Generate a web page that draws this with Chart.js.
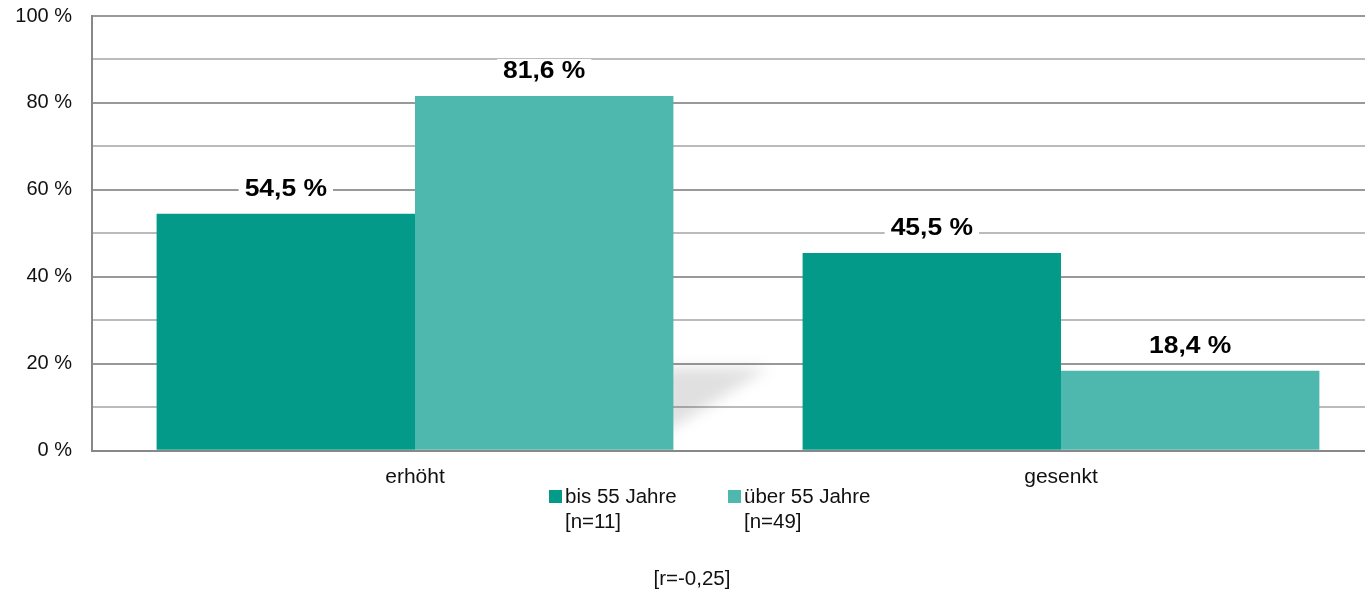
<!DOCTYPE html>
<html>
<head>
<meta charset="utf-8">
<script src="https://cdn.jsdelivr.net/npm/chart.js@4.4.0/dist/chart.umd.min.js"></script>
<style>
  html, body { margin: 0; padding: 0; background: #fff; overflow: hidden; }
  #wrap { width: 1365px; height: 592px; overflow: hidden; }
</style>
</head>
<body>
<div id="wrap"><canvas id="c" width="1400" height="592"></canvas></div>
<script>
// Daten
const categories = ['erhöht', 'gesenkt'];
const seriesNames = [['bis 55 Jahre', '[n=11]'], ['über 55 Jahre', '[n=49]']];
const valuesBis55 = [54.5, 45.5];
const valuesUeber55 = [81.6, 18.4];
const yTickLabels = [0, 20, 40, 60, 80, 100];
const note = '[r=-0,25]';

const colors = ['#039a8a', '#4eb7ae'];
const FONT = '"Liberation Sans", Arial, sans-serif';

const labelPlugin = {
  id: 'labels',
  beforeDatasetsDraw(chart) {
    // weicher Schatten rechts neben dem ersten hellen Balken
    const ctx = chart.ctx;
    const bar = chart.getDatasetMeta(1).data[0];
    const right = bar.x + bar.width / 2;
    const y0 = chart.scales.y.getPixelForValue(20);
    const y1 = chart.scales.y.getPixelForValue(4);
    ctx.save();
    ctx.filter = 'blur(7px)';
    ctx.fillStyle = 'rgba(0,0,0,0.12)';
    ctx.beginPath();
    ctx.moveTo(right - 10, y0 + 4);
    ctx.lineTo(right + 95, y0 + 4);
    ctx.lineTo(right - 10, y1);
    ctx.closePath();
    ctx.fill();
    ctx.restore();
  },
  afterDatasetsDraw(chart) {
    const ctx = chart.ctx;
    ctx.save();
    ctx.font = 'bold 23px ' + FONT;
    ctx.textAlign = 'center';
    ctx.textBaseline = 'middle';
    chart.data.datasets.forEach((ds, i) => {
      chart.getDatasetMeta(i).data.forEach((bar, j) => {
        const txt = ds.data[j].toFixed(1).replace('.', ',') + ' %';
        const w = ctx.measureText(txt).width * 1.15;
        const y = bar.y - 24;
        ctx.fillStyle = '#fff';
        ctx.fillRect(bar.x - w / 2 - 6, y - 13, w + 12, 26);
        ctx.save();
        ctx.translate(bar.x, y);
        ctx.scale(1.15, 1);
        ctx.fillStyle = '#000';
        ctx.fillText(txt, 0, 0);
        ctx.restore();
      });
    });
    ctx.restore();
  },
  afterDraw(chart) {
    const ctx = chart.ctx;
    ctx.save();
    ctx.font = '20.5px ' + FONT;
    ctx.textBaseline = 'middle';
    const legendX = [549, 728];
    seriesNames.forEach((lines, i) => {
      ctx.fillStyle = colors[i];
      ctx.fillRect(legendX[i], 490, 13, 13);
      ctx.fillStyle = '#111';
      ctx.textAlign = 'left';
      ctx.fillText(lines[0], legendX[i] + 16, 497);
      ctx.fillText(lines[1], legendX[i] + 16, 522);
    });
    ctx.textAlign = 'center';
    ctx.fillText(note, 692, 579);
    ctx.restore();
  }
};

new Chart(document.getElementById('c').getContext('2d'), {
  type: 'bar',
  data: {
    labels: categories,
    datasets: [
      { label: seriesNames[0].join(' '), data: valuesBis55, backgroundColor: colors[0] },
      { label: seriesNames[1].join(' '), data: valuesUeber55, backgroundColor: colors[1] }
    ]
  },
  options: {
    responsive: false,
    animation: false,
    categoryPercentage: 0.8,
    barPercentage: 1.0,
    layout: { padding: { left: 0, right: 16, top: 16, bottom: 88 } },
    plugins: { legend: { display: false }, tooltip: { enabled: false } },
    scales: {
      x: {
        grid: { display: false, drawTicks: false },
        border: { color: '#888', width: 2 },
        ticks: { color: '#111', font: { size: 21, family: FONT }, padding: 14 }
      },
      y: {
        min: 0, max: 100,
        afterFit: s => { s.width = 92; s.paddingTop = 0; s.paddingBottom = 0; },
        grid: {
          drawTicks: false,
          color: c => (c.tick.value % 20 === 0 ? '#999' : '#bbb'),
          lineWidth: 2
        },
        border: { color: '#888', width: 2 },
        ticks: {
          stepSize: 10,
          color: '#111',
          font: { size: 20, family: FONT },
          padding: 20,
          callback: v => (yTickLabels.includes(v) ? v + ' %' : '')
        }
      }
    }
  },
  plugins: [labelPlugin]
});
</script>
</body>
</html>
